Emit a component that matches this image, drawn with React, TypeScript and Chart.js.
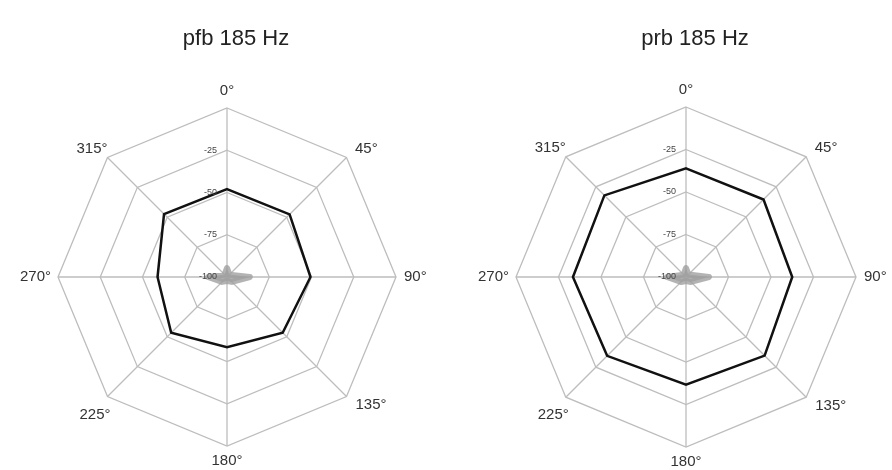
import React, { useEffect, useRef } from "react";
import { Chart, registerables } from "chart.js";

Chart.register(...registerables);

const angleLabels = ["0°", "45°", "90°", "135°", "180°", "225°", "270°", "315°"];
const tickValues = [-25, -50, -75, -100];
const pfbValues = [-48, -47.6, -50.6, -53.4, -58.4, -53.3, -58.9, -47.3];
const prbValues = [-36.1, -35.5, -37.5, -34.6, -36.7, -34.4, -33.5, -32.1];
const centerMarkValues = [-94.7, -98, -86.5, -95.9, -97.6, -95.9, -88.8, -98];
const titles = ["pfb 185 Hz", "prb 185 Hz"];

const FONT = "'Liberation Sans', Arial, Helvetica, sans-serif";

// label placement relative to the outer vertex: [dx, dy, align]
const labelPlacement: [number, number, CanvasTextAlign][] = [
  [0, -17, "center"],
  [8.5, -8.5, "left"],
  [8, 0, "left"],
  [9, 8.5, "left"],
  [0, 15, "center"],
  [3, 18, "right"],
  [-7, 0, "right"],
  [0, -8.5, "right"],
];

const labelPlugin = {
  id: "customLabels",
  afterDraw(chart: any, _args: any, opts: any) {
    const scale = chart.scales.r;
    const ctx = chart.ctx;
    ctx.save();
    // title
    ctx.fillStyle = "#222";
    ctx.font = `22px ${FONT}`;
    ctx.textAlign = "center";
    ctx.textBaseline = "alphabetic";
    ctx.fillText(opts.title, scale.xCenter + 9, 45);
    // point labels
    ctx.fillStyle = "#333";
    ctx.font = `15px ${FONT}`;
    ctx.textBaseline = "middle";
    const R = scale.drawingArea;
    angleLabels.forEach((lbl, i) => {
      const p = scale.getPointPosition(i, R);
      const [dx, dy, al] = labelPlacement[i];
      ctx.textAlign = al;
      ctx.fillText(lbl, p.x + dx, p.y + dy);
    });
    // tick labels
    ctx.fillStyle = "#444";
    ctx.font = `9px ${FONT}`;
    ctx.textAlign = "right";
    tickValues.forEach((v) => {
      const d = scale.getDistanceFromCenterForValue(v);
      ctx.fillText(String(v), scale.xCenter - 10, scale.yCenter - d);
    });
    ctx.restore();
  },
};

function RadarPanel(props: {
  values: number[];
  title: string;
  padding: { left: number; right: number; top: number; bottom: number };
  left: number;
}) {
  const ref = useRef<HTMLCanvasElement | null>(null);
  useEffect(() => {
    if (!ref.current) return;
    const chart = new Chart(ref.current, {
      type: "radar",
      data: {
        labels: angleLabels,
        datasets: [
          {
            data: centerMarkValues,
            borderColor: "rgba(160,160,160,0.8)",
            borderWidth: 6,
            borderJoinStyle: "round",
            backgroundColor: "rgba(160,160,160,0.8)",
            fill: "start",
            pointRadius: 0,
            tension: 0,
          },
          {
            data: props.values,
            borderColor: "#111",
            borderWidth: 2.5,
            backgroundColor: "rgba(0,0,0,0)",
            fill: false,
            pointRadius: 0,
            tension: 0,
          },
        ],
      },
      options: {
        responsive: false,
        animation: false,
        devicePixelRatio: 1,
        layout: { padding: props.padding },
        plugins: {
          legend: { display: false },
          tooltip: { enabled: false },
          title: { display: false },
          customLabels: { title: props.title },
        } as any,
        scales: {
          r: {
            min: -100,
            max: 0,
            ticks: { stepSize: 25, display: false },
            pointLabels: { display: false },
            grid: { color: "#bdbdbd", lineWidth: 1.3, circular: false },
            angleLines: { color: "#bdbdbd", lineWidth: 1.3 },
          },
        },
      },
      plugins: [labelPlugin],
    });
    return () => chart.destroy();
  }, []);
  return (
    <canvas
      ref={ref}
      width={446}
      height={470}
      style={{ position: "absolute", left: props.left, top: 0, width: 446, height: 470 }}
    />
  );
}

export default function App() {
  return (
    <div
      style={{
        position: "fixed",
        left: 0,
        top: 0,
        width: 892,
        height: 470,
        background: "#fff",
        overflow: "hidden",
      }}
    >
      <RadarPanel
        values={pfbValues}
        title={titles[0]}
        left={0}
        padding={{ left: 58, right: 50, top: 108, bottom: 24 }}
      />
      <RadarPanel
        values={prbValues}
        title={titles[1]}
        left={446}
        padding={{ left: 70, right: 36, top: 107, bottom: 23 }}
      />
    </div>
  );
}
